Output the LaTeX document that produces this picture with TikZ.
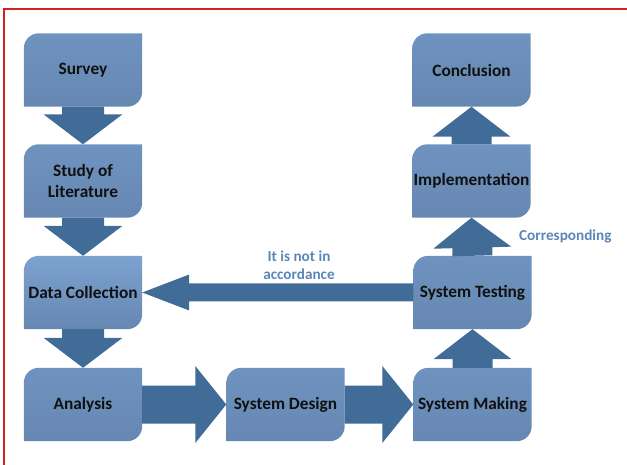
\documentclass[tikz,border=0pt]{standalone}
\usepackage{fontspec}
\setmainfont{Carlito}
\usetikzlibrary{calc}
\pgfdeclarelayer{bg}
\pgfsetlayers{bg,main}
\definecolor{boxtop}{HTML}{6F93BF}
\definecolor{boxbot}{HTML}{6687B2}
\definecolor{datatop}{HTML}{7CA2CF}
\definecolor{arrowc}{HTML}{416C98}
\definecolor{labelc}{HTML}{5A86B8}
\definecolor{framec}{HTML}{D42020}
\definecolor{txtc}{HTML}{101010}
% block arrow: from, to, shaft half width, head half width, head length
\newcommand\flowarrow[5]{%
  \fill[arrowc] let \p1=(#1), \p2=(#2),
    \n1={atan2(\y2-\y1,\x2-\x1)}, \n2={veclen(\x2-\x1,\y2-\y1)} in
    [shift={(\p1)}, rotate=\n1]
    (0,-#3) -- (\n2-#5,-#3) -- (\n2-#5,-#4) -- (\n2,0) -- (\n2-#5,#4)
    -- (\n2-#5,#3) -- (0,#3) -- cycle;}
\begin{document}
\begin{tikzpicture}[x=1pt,y=-1pt,
  stepbox/.style={rectangle, minimum width=118pt, minimum height=73pt,
    inner sep=1pt, align=center,
    font=\fontsize{17.3}{20.5}\selectfont\bfseries, text=txtc},
  lbl/.style={font=\fontsize{15.2}{18}\selectfont\bfseries, text=labelc,
    align=center, inner sep=0pt}]
\useasboundingbox (0,0) rectangle (627,465);
% frame
\draw[framec, line width=1.8pt] (4,465) -- (4,9) -- (627,9);
% nodes
\node[stepbox] (survey) at (83,70) {Survey};
\node[stepbox] (study) at (83,181) {Study of\\Literature};
\node[stepbox] (data) at (83,292.5) {Data Collection};
\node[stepbox] (analysis) at (83,404.5) {Analysis};
\node[stepbox] (design) at (285.5,404.5) {System Design};
\node[stepbox] (making) at (472.5,404.5) {System Making};
\node[stepbox] (testing) at (472.5,292.5) {System Testing};
\node[stepbox] (impl) at (471.5,181) {Implementation};
\node[stepbox] (concl) at (471.5,70) {Conclusion};
% box backgrounds
\begin{pgfonlayer}{bg}
\foreach \n/\tc in {survey/boxtop,study/boxtop,data/datatop,analysis/boxtop,
    design/boxtop,making/boxtop,testing/boxtop,impl/boxtop,concl/boxtop}{
  \shade[top color=\tc, bottom color=boxbot]
    (\n.south west) -- ($(\n.north west)+(0,15)$)
    arc[start angle=180, end angle=90, radius=15pt]
    -- (\n.north east) -- ($(\n.south east)+(0,-15)$)
    arc[start angle=0, end angle=-90, radius=15pt] -- cycle;
}
\end{pgfonlayer}
% connectors
\flowarrow{survey.south}{study.north}{21}{39.5}{30}
\flowarrow{study.south}{data.north}{21}{39.5}{30}
\flowarrow{data.south}{analysis.north}{21}{39.5}{30}
\flowarrow{analysis.east}{design.west}{19}{38.5}{31}
\flowarrow{design.east}{making.west}{19}{38.5}{31}
\flowarrow{making.north}{testing.south}{20}{39}{30}
\flowarrow{testing.north}{impl.south}{20}{39}{30}
\flowarrow{impl.north}{concl.south}{20}{39}{30}
\flowarrow{testing.west}{data.east}{9}{18}{47}
% labels
\node[lbl] (lnot) at (299,265) {It is not in\\accordance};
\node[lbl, anchor=west] (lcorr) at (519,236) {Corresponding};
\end{tikzpicture}
\end{document}
